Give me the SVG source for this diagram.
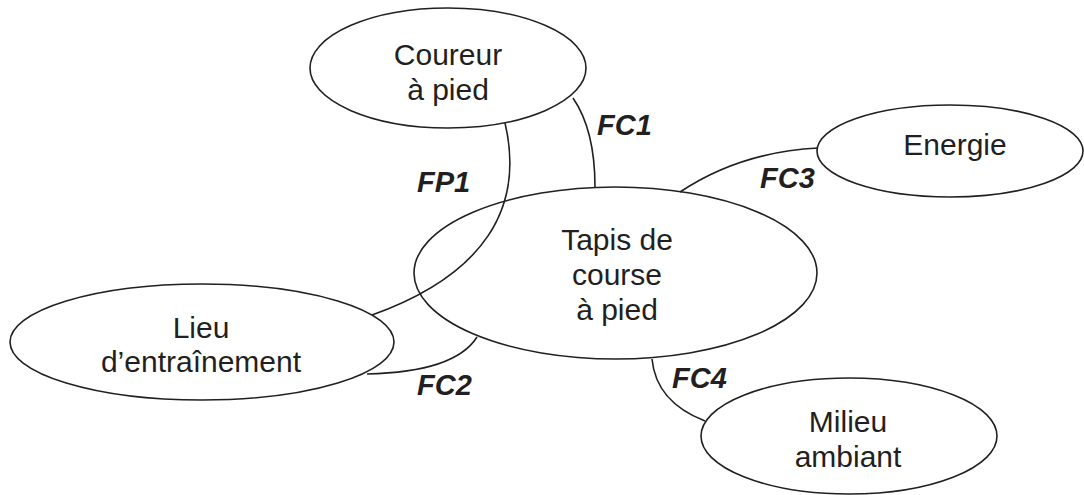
<svg xmlns="http://www.w3.org/2000/svg" width="1084" height="495" viewBox="0 0 1084 495">
  <style>
    .node ellipse { fill: #ffffff; stroke: #231f20; stroke-width: 1.6; }
    .node text { font-family: "Liberation Sans", Arial, sans-serif; font-size: 30px; fill: #231f20; text-anchor: middle; }
    .link path { fill: none; stroke: #231f20; stroke-width: 1.6; }
    .link text { font-family: "Liberation Sans", Arial, sans-serif; font-size: 29px; font-weight: bold; font-style: italic; fill: #231f20; }
  </style>
  <rect width="1084" height="495" fill="#ffffff"/>

  <g id="node-coureur" class="node">
    <ellipse cx="448" cy="68" rx="138" ry="60"/>
    <text x="448" y="65">Coureur</text>
    <text x="448" y="100">à pied</text>
  </g>

  <g id="node-energie" class="node">
    <ellipse cx="950" cy="151" rx="133" ry="46"/>
    <text x="955" y="155">Energie</text>
  </g>

  <g id="node-tapis" class="node">
    <ellipse cx="615.5" cy="273" rx="201.5" ry="86"/>
    <text x="617" y="250">Tapis de</text>
    <text x="617" y="285">course</text>
    <text x="617" y="320">à pied</text>
  </g>

  <g id="node-lieu" class="node">
    <ellipse cx="202" cy="342" rx="192" ry="58"/>
    <text x="201" y="338">Lieu</text>
    <text x="201" y="372">d’entraînement</text>
  </g>

  <g id="node-milieu" class="node">
    <ellipse cx="849" cy="436" rx="148" ry="58"/>
    <text x="848" y="432">Milieu</text>
    <text x="848" y="467">ambiant</text>
  </g>

  <g id="connectors" class="link">
    <!-- FP1: runner to training place, across the treadmill -->
    <path d="M505,123 C525,208 484,275 372,315"/>
    <text x="417" y="192">FP1</text>
    <!-- FC1: runner to treadmill -->
    <path d="M573,98 Q595,130 595,187"/>
    <text x="597" y="135">FC1</text>
    <!-- FC2: training place to treadmill -->
    <path d="M367,374 Q455,372 477,337"/>
    <text x="417" y="395">FC2</text>
    <!-- FC3: treadmill to energy -->
    <path d="M680,192 Q740,152 818,148"/>
    <text x="760" y="188">FC3</text>
    <!-- FC4: treadmill to surrounding environment -->
    <path d="M652,359 Q656,402 705,421"/>
    <text x="672" y="388">FC4</text>
  </g>
</svg>
